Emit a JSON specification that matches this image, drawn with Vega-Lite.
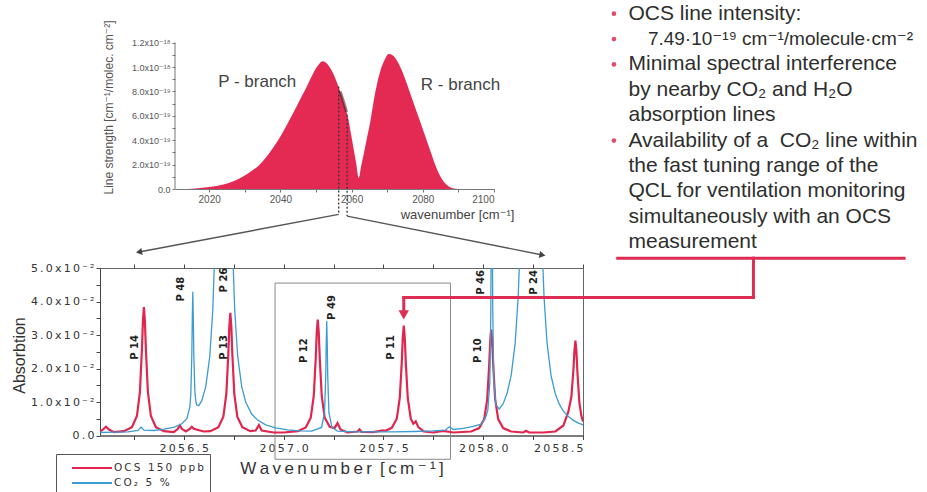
{
  "$schema": "https://vega.github.io/schema/vega-lite/v6.json",
  "background": "white",
  "padding": {"left": 10, "top": 0, "right": 0, "bottom": 0},
  "config": {
    "font": "Liberation Sans, Arial, DejaVu Sans",
    "view": {"stroke": "transparent"},
    "axis": {"grid": false, "labelFontWeight": "normal", "titleFontWeight": "normal", "labelOverlap": false}
  },
  "datasets": {
    "band": [
      {"nu": 2012, "s": 0}, {"nu": 2016, "s": 0.005}, {"nu": 2020, "s": 0.016}, {"nu": 2024, "s": 0.037},
      {"nu": 2027, "s": 0.066}, {"nu": 2030, "s": 0.11}, {"nu": 2032, "s": 0.15}, {"nu": 2034, "s": 0.195},
      {"nu": 2036, "s": 0.26}, {"nu": 2038, "s": 0.34}, {"nu": 2040, "s": 0.43}, {"nu": 2042, "s": 0.535},
      {"nu": 2044, "s": 0.645}, {"nu": 2046, "s": 0.76}, {"nu": 2047.5, "s": 0.845}, {"nu": 2048.8, "s": 0.925},
      {"nu": 2050, "s": 0.99}, {"nu": 2051, "s": 1.03}, {"nu": 2051.8, "s": 1.047}, {"nu": 2052.8, "s": 1.035},
      {"nu": 2053.8, "s": 1.0}, {"nu": 2054.8, "s": 0.95}, {"nu": 2055.8, "s": 0.88}, {"nu": 2056.8, "s": 0.8},
      {"nu": 2057.8, "s": 0.71}, {"nu": 2058.6, "s": 0.63}, {"nu": 2059.2, "s": 0.558}, {"nu": 2059.9, "s": 0.44},
      {"nu": 2060.6, "s": 0.325}, {"nu": 2061.3, "s": 0.21}, {"nu": 2062.0, "s": 0.09}, {"nu": 2062.7, "s": 0.19},
      {"nu": 2063.5, "s": 0.3}, {"nu": 2064.4, "s": 0.43}, {"nu": 2065.3, "s": 0.56}, {"nu": 2066.2, "s": 0.72},
      {"nu": 2067.2, "s": 0.87}, {"nu": 2068.2, "s": 0.98}, {"nu": 2069.3, "s": 1.06}, {"nu": 2070.4, "s": 1.107},
      {"nu": 2071.6, "s": 1.095}, {"nu": 2072.8, "s": 1.05}, {"nu": 2074.0, "s": 0.98}, {"nu": 2075.2, "s": 0.89},
      {"nu": 2076.4, "s": 0.79}, {"nu": 2077.6, "s": 0.69}, {"nu": 2078.8, "s": 0.59}, {"nu": 2080.0, "s": 0.49},
      {"nu": 2081.2, "s": 0.39}, {"nu": 2082.4, "s": 0.29}, {"nu": 2083.6, "s": 0.19}, {"nu": 2084.8, "s": 0.11},
      {"nu": 2086.0, "s": 0.055}, {"nu": 2087.2, "s": 0.022}, {"nu": 2088.4, "s": 0.006}, {"nu": 2090, "s": 0}
    ],
    "ocs": [
      {"nu": 2056.08, "a": 0.0012}, {"nu": 2056.095, "a": 0.0018}, {"nu": 2056.11, "a": 0.0026}, {"nu": 2056.125, "a": 0.0018},
      {"nu": 2056.15, "a": 0.001}, {"nu": 2056.2, "a": 0.0013}, {"nu": 2056.24, "a": 0.0025}, {"nu": 2056.265, "a": 0.0058},
      {"nu": 2056.28, "a": 0.013}, {"nu": 2056.29, "a": 0.0256}, {"nu": 2056.295, "a": 0.034}, {"nu": 2056.3, "a": 0.0383},
      {"nu": 2056.305, "a": 0.034}, {"nu": 2056.31, "a": 0.0256}, {"nu": 2056.32, "a": 0.013}, {"nu": 2056.335, "a": 0.0058},
      {"nu": 2056.36, "a": 0.0025}, {"nu": 2056.4, "a": 0.0013}, {"nu": 2056.45, "a": 0.001}, {"nu": 2056.47, "a": 0.002},
      {"nu": 2056.48, "a": 0.003}, {"nu": 2056.49, "a": 0.002}, {"nu": 2056.51, "a": 0.0012}, {"nu": 2056.53, "a": 0.002},
      {"nu": 2056.54, "a": 0.0026}, {"nu": 2056.55, "a": 0.002}, {"nu": 2056.6, "a": 0.0012}, {"nu": 2056.633, "a": 0.0013},
      {"nu": 2056.673, "a": 0.0025}, {"nu": 2056.698, "a": 0.0056}, {"nu": 2056.713, "a": 0.0124}, {"nu": 2056.723, "a": 0.0244},
      {"nu": 2056.728, "a": 0.0325}, {"nu": 2056.733, "a": 0.0366}, {"nu": 2056.738, "a": 0.0325}, {"nu": 2056.743, "a": 0.0244},
      {"nu": 2056.753, "a": 0.0124}, {"nu": 2056.768, "a": 0.0056}, {"nu": 2056.793, "a": 0.0025}, {"nu": 2056.833, "a": 0.0013},
      {"nu": 2056.86, "a": 0.0015}, {"nu": 2056.876, "a": 0.0031}, {"nu": 2056.89, "a": 0.0015}, {"nu": 2056.95, "a": 0.0009},
      {"nu": 2057.0, "a": 0.0009}, {"nu": 2057.071, "a": 0.0013}, {"nu": 2057.111, "a": 0.0024}, {"nu": 2057.136, "a": 0.0053},
      {"nu": 2057.151, "a": 0.0118}, {"nu": 2057.161, "a": 0.0231}, {"nu": 2057.166, "a": 0.0308}, {"nu": 2057.171, "a": 0.0346},
      {"nu": 2057.176, "a": 0.0308}, {"nu": 2057.181, "a": 0.0231}, {"nu": 2057.191, "a": 0.0118}, {"nu": 2057.206, "a": 0.0053},
      {"nu": 2057.231, "a": 0.0026}, {"nu": 2057.255, "a": 0.0022}, {"nu": 2057.27, "a": 0.0037}, {"nu": 2057.285, "a": 0.0018},
      {"nu": 2057.32, "a": 0.0009}, {"nu": 2057.37, "a": 0.0012}, {"nu": 2057.38, "a": 0.0018}, {"nu": 2057.39, "a": 0.0011},
      {"nu": 2057.45, "a": 0.001}, {"nu": 2057.497, "a": 0.0015}, {"nu": 2057.51, "a": 0.0014}, {"nu": 2057.542, "a": 0.0023},
      {"nu": 2057.567, "a": 0.005}, {"nu": 2057.582, "a": 0.0112}, {"nu": 2057.592, "a": 0.0219}, {"nu": 2057.597, "a": 0.0292},
      {"nu": 2057.602, "a": 0.0328}, {"nu": 2057.607, "a": 0.0292}, {"nu": 2057.612, "a": 0.0219}, {"nu": 2057.622, "a": 0.0112},
      {"nu": 2057.637, "a": 0.005}, {"nu": 2057.65, "a": 0.0035}, {"nu": 2057.662, "a": 0.0042}, {"nu": 2057.675, "a": 0.0025},
      {"nu": 2057.702, "a": 0.0012}, {"nu": 2057.75, "a": 0.0009}, {"nu": 2057.8, "a": 0.0014}, {"nu": 2057.85, "a": 0.0009},
      {"nu": 2057.94, "a": 0.0012}, {"nu": 2057.98, "a": 0.0022}, {"nu": 2058.005, "a": 0.0049}, {"nu": 2058.02, "a": 0.0108},
      {"nu": 2058.03, "a": 0.0211}, {"nu": 2058.035, "a": 0.0281}, {"nu": 2058.04, "a": 0.0316}, {"nu": 2058.045, "a": 0.0281},
      {"nu": 2058.05, "a": 0.0211}, {"nu": 2058.06, "a": 0.0108}, {"nu": 2058.075, "a": 0.0049}, {"nu": 2058.1, "a": 0.0022},
      {"nu": 2058.14, "a": 0.0012}, {"nu": 2058.2, "a": 0.0009}, {"nu": 2058.215, "a": 0.0014}, {"nu": 2058.23, "a": 0.0009},
      {"nu": 2058.3, "a": 0.0009}, {"nu": 2058.362, "a": 0.0012}, {"nu": 2058.402, "a": 0.003}, {"nu": 2058.427, "a": 0.0072},
      {"nu": 2058.442, "a": 0.0117}, {"nu": 2058.452, "a": 0.0197}, {"nu": 2058.457, "a": 0.0252}, {"nu": 2058.462, "a": 0.0283},
      {"nu": 2058.467, "a": 0.0252}, {"nu": 2058.472, "a": 0.0189}, {"nu": 2058.482, "a": 0.0097}, {"nu": 2058.492, "a": 0.0058},
      {"nu": 2058.5, "a": 0.0042}
    ],
    "co2": [
      {"nu": 2056.08, "a": 0.0009}, {"nu": 2056.15, "a": 0.001}, {"nu": 2056.22, "a": 0.0011}, {"nu": 2056.27, "a": 0.0015},
      {"nu": 2056.286, "a": 0.0025}, {"nu": 2056.3, "a": 0.0016}, {"nu": 2056.35, "a": 0.0015}, {"nu": 2056.4, "a": 0.0019},
      {"nu": 2056.45, "a": 0.0024}, {"nu": 2056.49, "a": 0.0035}, {"nu": 2056.515, "a": 0.005}, {"nu": 2056.53, "a": 0.0084},
      {"nu": 2056.535, "a": 0.0123}, {"nu": 2056.54, "a": 0.0239}, {"nu": 2056.5425, "a": 0.0353}, {"nu": 2056.545, "a": 0.0429},
      {"nu": 2056.5475, "a": 0.0355}, {"nu": 2056.55, "a": 0.0245}, {"nu": 2056.555, "a": 0.0135}, {"nu": 2056.56, "a": 0.0102},
      {"nu": 2056.565, "a": 0.0091}, {"nu": 2056.575, "a": 0.0089}, {"nu": 2056.59, "a": 0.0104}, {"nu": 2056.61, "a": 0.0146},
      {"nu": 2056.63, "a": 0.0236}, {"nu": 2056.645, "a": 0.0374}, {"nu": 2056.655, "a": 0.0547}, {"nu": 2056.665, "a": 0.0874},
      {"nu": 2056.68, "a": 0.2306}, {"nu": 2056.7, "a": 1.15}, {"nu": 2056.72, "a": 0.2306}, {"nu": 2056.735, "a": 0.0874},
      {"nu": 2056.745, "a": 0.0547}, {"nu": 2056.755, "a": 0.0374}, {"nu": 2056.77, "a": 0.0236}, {"nu": 2056.79, "a": 0.0146},
      {"nu": 2056.81, "a": 0.01}, {"nu": 2056.84, "a": 0.0064}, {"nu": 2056.87, "a": 0.0046}, {"nu": 2056.91, "a": 0.0032},
      {"nu": 2056.96, "a": 0.0023}, {"nu": 2057.02, "a": 0.0017}, {"nu": 2057.08, "a": 0.0014}, {"nu": 2057.14, "a": 0.0013},
      {"nu": 2057.19, "a": 0.0024}, {"nu": 2057.205, "a": 0.0068}, {"nu": 2057.211, "a": 0.0177}, {"nu": 2057.2135, "a": 0.0276},
      {"nu": 2057.216, "a": 0.0342}, {"nu": 2057.2185, "a": 0.0276}, {"nu": 2057.221, "a": 0.0177}, {"nu": 2057.227, "a": 0.0068},
      {"nu": 2057.242, "a": 0.0024}, {"nu": 2057.27, "a": 0.0013}, {"nu": 2057.35, "a": 0.0011}, {"nu": 2057.45, "a": 0.0011},
      {"nu": 2057.55, "a": 0.0011}, {"nu": 2057.65, "a": 0.0012}, {"nu": 2057.75, "a": 0.0014}, {"nu": 2057.81, "a": 0.0016},
      {"nu": 2057.83, "a": 0.0026}, {"nu": 2057.85, "a": 0.0018}, {"nu": 2057.9, "a": 0.0021}, {"nu": 2057.95, "a": 0.0027},
      {"nu": 2057.99, "a": 0.0034}, {"nu": 2058.01, "a": 0.0051}, {"nu": 2058.023, "a": 0.0074}, {"nu": 2058.033, "a": 0.0157},
      {"nu": 2058.038, "a": 0.036}, {"nu": 2058.0405, "a": 0.0623}, {"nu": 2058.043, "a": 0.0849}, {"nu": 2058.0455, "a": 0.0624},
      {"nu": 2058.048, "a": 0.0365}, {"nu": 2058.053, "a": 0.0166}, {"nu": 2058.063, "a": 0.0093}, {"nu": 2058.08, "a": 0.0079},
      {"nu": 2058.1, "a": 0.0095}, {"nu": 2058.12, "a": 0.0127}, {"nu": 2058.14, "a": 0.0179}, {"nu": 2058.16, "a": 0.0275},
      {"nu": 2058.175, "a": 0.0411}, {"nu": 2058.185, "a": 0.0566}, {"nu": 2058.195, "a": 0.083}, {"nu": 2058.215, "a": 0.24},
      {"nu": 2058.24, "a": 1.75}, {"nu": 2058.265, "a": 0.24}, {"nu": 2058.285, "a": 0.083}, {"nu": 2058.295, "a": 0.0566},
      {"nu": 2058.305, "a": 0.0411}, {"nu": 2058.32, "a": 0.0275}, {"nu": 2058.34, "a": 0.0179}, {"nu": 2058.36, "a": 0.0127},
      {"nu": 2058.38, "a": 0.0095}, {"nu": 2058.4, "a": 0.0074}, {"nu": 2058.42, "a": 0.006}, {"nu": 2058.45, "a": 0.0046},
      {"nu": 2058.48, "a": 0.0036}, {"nu": 2058.5, "a": 0.0032}
    ],
    "notes": [
      {"line": 0, "bullet": true, "sub": false, "text": "OCS line intensity:"},
      {"line": 1, "bullet": true, "sub": true, "text": "7.49·10⁻¹⁹ cm⁻¹/molecule·cm⁻²"},
      {"line": 2, "bullet": true, "sub": false, "text": "Minimal spectral interference"},
      {"line": 3, "bullet": false, "sub": false, "text": "by nearby CO₂ and H₂O"},
      {"line": 4, "bullet": false, "sub": false, "text": "absorption lines"},
      {"line": 5, "bullet": true, "sub": false, "text": "Availability of a \u00a0CO₂ line within"},
      {"line": 6, "bullet": false, "sub": false, "text": "the fast tuning range of the"},
      {"line": 7, "bullet": false, "sub": false, "text": "QCL for ventilation monitoring"},
      {"line": 8, "bullet": false, "sub": false, "text": "simultaneously with an OCS"},
      {"line": 9, "bullet": false, "sub": false, "text": "measurement"}
    ]
  },
  "spacing": -4,
  "vconcat": [
    {
      "spacing": 0,
      "hconcat": [
        {"width": 1, "height": 1, "data": {"values": []}, "mark": {"type": "point", "opacity": 0}},
        {
          "width": 319,
          "height": 188,
          "resolve": {"axis": {"x": "independent", "y": "independent"}},
          "layer": [
            {
              "data": {"name": "band"},
              "mark": {"type": "area", "color": "#e42a52", "interpolate": "monotone"},
              "encoding": {
                "x": {
                  "field": "nu", "type": "quantitative",
                  "scale": {"domain": [2010.4, 2100], "nice": false, "zero": false},
                  "axis": {
                    "values": [2020, 2030, 2040, 2050, 2060, 2070, 2080, 2090, 2100],
                    "format": "d",
                    "labelExpr": "datum.value % 20 == 0 ? datum.label : ''",
                    "domainColor": "#777", "tickColor": "#777", "tickSize": 3,
                    "labelFontSize": 10, "labelColor": "#555", "labelPadding": 2,
                    "title": "wavenumber [cm⁻¹]", "titleFontSize": 13, "titleColor": "#444",
                    "titleX": 339, "titleY": 25, "titleAlign": "right", "titleBaseline": "middle"
                  }
                },
                "y": {
                  "field": "s", "type": "quantitative",
                  "scale": {"domain": [0, 1.542], "nice": false, "zero": false},
                  "axis": {
                    "values": [0, 0.1, 0.2, 0.3, 0.4, 0.5, 0.6, 0.7, 0.8, 0.9, 1.0, 1.1, 1.2],
                    "domain": false, "tickColor": "#777", "tickSize": 3,
                    "labelExpr": "datum.value == 0 ? '0.0' : round(datum.value*10) % 2 == 1 ? '' : datum.value < 0.95 ? format(datum.value*10, '.1f') + 'x10⁻¹⁹' : format(datum.value, '.1f') + 'x10⁻¹⁸'",
                    "labelFontSize": 9, "labelColor": "#555", "labelPadding": 2,
                    "title": "Line strength [cm⁻¹/molec. cm⁻²]", "titleFontSize": 12, "titleColor": "#555",
                    "titleX": -67, "titleY": 106, "titleAngle": 270, "titleBaseline": "middle", "titleAlign": "center"
                  }
                }
              }
            },
            {
              "data": {"name": "band"},
              "transform": [{"filter": "datum.nu >= 2056 && datum.nu <= 2059"}],
              "mark": {"type": "line", "color": "#3a1622", "opacity": 0.55, "strokeWidth": 3},
              "encoding": {
                "x": {"field": "nu", "type": "quantitative", "scale": {"domain": [2010.4, 2100], "nice": false, "zero": false}, "axis": null},
                "y": {"field": "s", "type": "quantitative", "scale": {"domain": [0, 1.542], "nice": false, "zero": false}, "axis": null}
              }
            },
            {
              "data": {"values": [{"nu": 2056.38, "s": 0.84, "s2": -0.208}, {"nu": 2058.74, "s": 0.61, "s2": -0.222}]},
              "mark": {"type": "rule", "color": "#333", "strokeDash": [2, 2], "strokeWidth": 1.3},
              "encoding": {
                "x": {"field": "nu", "type": "quantitative", "scale": {"domain": [2010.4, 2100], "nice": false, "zero": false}, "axis": null},
                "y": {"field": "s", "type": "quantitative", "scale": {"domain": [0, 1.542], "nice": false, "zero": false}, "axis": null},
                "y2": {"field": "s2"}
              }
            },
            {
              "data": {"values": [
                {"nu": 2056.38, "s": -0.208, "nu2": 2000.29, "s2": -0.5167},
                {"nu": 2058.74, "s": -0.222, "nu2": 2113.6, "s2": -0.5413}
              ]},
              "mark": {"type": "rule", "color": "#555", "strokeWidth": 1.4},
              "encoding": {
                "x": {"field": "nu", "type": "quantitative", "scale": {"domain": [2010.4, 2100], "nice": false, "zero": false}, "axis": null},
                "y": {"field": "s", "type": "quantitative", "scale": {"domain": [0, 1.542], "nice": false, "zero": false}, "axis": null},
                "x2": {"field": "nu2"},
                "y2": {"field": "s2"}
              }
            },
            {
              "data": {"values": [{"nu": 2000.29, "s": -0.5167}]},
              "mark": {"type": "point", "shape": "triangle-up", "filled": true, "color": "#444", "opacity": 1, "size": 50, "angle": 259},
              "encoding": {
                "x": {"field": "nu", "type": "quantitative", "scale": {"domain": [2010.4, 2100], "nice": false, "zero": false}, "axis": null},
                "y": {"field": "s", "type": "quantitative", "scale": {"domain": [0, 1.542], "nice": false, "zero": false}, "axis": null}
              }
            },
            {
              "data": {"values": [{"nu": 2113.6, "s": -0.5413}]},
              "mark": {"type": "point", "shape": "triangle-up", "filled": true, "color": "#444", "opacity": 1, "size": 50, "angle": 101},
              "encoding": {
                "x": {"field": "nu", "type": "quantitative", "scale": {"domain": [2010.4, 2100], "nice": false, "zero": false}, "axis": null},
                "y": {"field": "s", "type": "quantitative", "scale": {"domain": [0, 1.542], "nice": false, "zero": false}, "axis": null}
              }
            },
            {
              "data": {"values": [{}]},
              "mark": {"type": "rule", "color": "#777"},
              "encoding": {
                "x": {"datum": 2010.4, "type": "quantitative", "scale": {"domain": [2010.4, 2100], "nice": false, "zero": false}, "axis": null},
                "y": {"datum": 0, "type": "quantitative", "scale": {"domain": [0, 1.542], "nice": false, "zero": false}, "axis": null},
                "y2": {"datum": 1.2}
              }
            },
            {
              "data": {"values": [{"t": "P - branch", "nu": 2033.5, "s": 0.874}, {"t": "R - branch", "nu": 2090.6, "s": 0.855}]},
              "mark": {"type": "text", "fontSize": 17, "color": "#444", "align": "center", "baseline": "middle"},
              "encoding": {
                "x": {"field": "nu", "type": "quantitative", "scale": {"domain": [2010.4, 2100], "nice": false, "zero": false}, "axis": null},
                "y": {"field": "s", "type": "quantitative", "scale": {"domain": [0, 1.542], "nice": false, "zero": false}, "axis": null},
                "text": {"field": "t"}
              }
            }
          ]
        },
        {
          "width": 381,
          "height": 253.7,
          "data": {"name": "notes"},
          "layer": [
            {
              "transform": [{"filter": "datum.bullet"}],
              "mark": {"type": "circle", "color": "#df4c6c", "size": 22, "opacity": 1},
              "encoding": {
                "x": {"datum": -0.75, "type": "quantitative", "scale": {"domain": [-4.2, 15.44], "nice": false, "zero": false}, "axis": null},
                "y": {"field": "line", "type": "ordinal", "scale": {"type": "point", "padding": 0.5, "domain": [0, 1, 2, 3, 4, 5, 6, 7, 8, 9]}, "axis": null}
              }
            },
            {
              "transform": [{"filter": "!datum.sub"}],
              "mark": {"type": "text", "align": "left", "baseline": "middle", "fontSize": 21, "color": "#2e2e2e"},
              "encoding": {
                "x": {"datum": 0, "type": "quantitative", "scale": {"domain": [-4.2, 15.44], "nice": false, "zero": false}, "axis": null},
                "y": {"field": "line", "type": "ordinal", "scale": {"type": "point", "padding": 0.5, "domain": [0, 1, 2, 3, 4, 5, 6, 7, 8, 9]}, "axis": null},
                "text": {"field": "text"}
              }
            },
            {
              "transform": [{"filter": "datum.sub"}],
              "mark": {"type": "text", "align": "left", "baseline": "middle", "fontSize": 19, "color": "#2e2e2e"},
              "encoding": {
                "x": {"datum": 1, "type": "quantitative", "scale": {"domain": [-4.2, 15.44], "nice": false, "zero": false}, "axis": null},
                "y": {"field": "line", "type": "ordinal", "scale": {"type": "point", "padding": 0.5, "domain": [0, 1, 2, 3, 4, 5, 6, 7, 8, 9]}, "axis": null},
                "text": {"field": "text"}
              }
            }
          ]
        }
      ]
    },
    {
      "width": 483,
      "height": 167.5,
      "view": {"stroke": "#666", "strokeWidth": 1},
      "resolve": {"axis": {"x": "independent", "y": "independent"}},
      "layer": [
        {
          "data": {"values": [{"nu": 2056.957, "nu2": 2057.836, "a": 0.0455, "a2": -0.0071}]},
          "mark": {"type": "rect", "fillOpacity": 0, "stroke": "#8a8a8a", "strokeWidth": 1},
          "encoding": {
            "x": {
              "field": "nu", "type": "quantitative",
              "scale": {"domain": [2056.08, 2058.5], "nice": false, "zero": false},
              "axis": {"orient": "top", "labels": false, "title": null, "domain": false,
                       "values": [2056.25, 2056.5, 2056.75, 2057, 2057.25, 2057.5, 2057.75, 2058, 2058.25, 2058.5],
                       "tickColor": "#444", "tickSize": 4}
            },
            "x2": {"field": "nu2"},
            "y": {"field": "a", "type": "quantitative", "scale": {"domain": [0, 0.05], "nice": false, "zero": false}, "axis": null},
            "y2": {"field": "a2"}
          }
        },
        {
          "data": {"name": "ocs"},
          "mark": {"type": "line", "strokeWidth": 2.2, "clip": true},
          "encoding": {
            "x": {
              "field": "nu", "type": "quantitative",
              "scale": {"domain": [2056.08, 2058.5], "nice": false, "zero": false},
              "axis": {
                "orient": "bottom",
                "values": [2056.25, 2056.5, 2056.75, 2057, 2057.25, 2057.5, 2057.75, 2058, 2058.25, 2058.5],
                "labelExpr": "round(datum.value*4) % 2 == 0 ? join(split(format(datum.value, '.1f'), ''), '\u2009') : ''",
                "labelFont": "DejaVu Sans", "labelFontSize": 11, "labelColor": "#333", "labelPadding": 3,
                "domainColor": "#444", "tickColor": "#444", "tickSize": 4,
                "title": "W\u2009a\u2009v\u2009e\u2009n\u2009u\u2009m\u2009b\u2009e\u2009r \u2009[\u2009c\u2009m\u2009⁻\u2009¹\u2009]",
                "titleFontSize": 17, "titleColor": "#333", "titleY": 33, "titleBaseline": "middle"
              }
            },
            "y": {
              "field": "a", "type": "quantitative",
              "scale": {"domain": [0, 0.05], "nice": false, "zero": false},
              "axis": {
                "values": [0, 0.005, 0.01, 0.015, 0.02, 0.025, 0.03, 0.035, 0.04, 0.045, 0.05],
                "labelExpr": "round(datum.value*200) % 2 == 1 ? '' : join(split(format(datum.value*100, '.1f') + (datum.value == 0 ? '' : 'x10⁻²'), ''), '\u2009')",
                "labelFont": "DejaVu Sans", "labelFontSize": 11, "labelColor": "#333", "labelPadding": 2,
                "domainColor": "#444", "tickColor": "#444", "tickSize": 4,
                "title": "Absorbtion", "titleFontSize": 16, "titleColor": "#333",
                "titleX": -81, "titleY": 87, "titleAngle": 270, "titleBaseline": "middle", "titleAlign": "center"
              }
            },
            "color": {
              "datum": "OCS 150 ppb", "type": "nominal",
              "scale": {"domain": ["OCS 150 ppb", "CO₂ 5 %"], "range": ["#e0264e", "#3d9bd3"]},
              "legend": {
                "orient": "none", "legendX": -44, "legendY": 453, "direction": "vertical", "title": null,
                "strokeColor": "#555", "fillColor": "white", "padding": 6,
                "symbolType": "M-2.86,0H2.86", "symbolSize": 196, "symbolStrokeWidth": 2, "symbolOffset": 22,
                "labelFont": "DejaVu Sans", "labelFontSize": 10.5, "labelColor": "#333", "labelOffset": 14,
                "labelExpr": "join(split(datum.label, ''), '\u2009')", "rowPadding": 1
              }
            }
          }
        },
        {
          "data": {"name": "co2"},
          "mark": {"type": "line", "strokeWidth": 1.3, "clip": true},
          "encoding": {
            "x": {"field": "nu", "type": "quantitative", "scale": {"domain": [2056.08, 2058.5], "nice": false, "zero": false}, "axis": null},
            "y": {"field": "a", "type": "quantitative", "scale": {"domain": [0, 0.05], "nice": false, "zero": false}, "axis": null},
            "color": {
              "datum": "CO₂ 5 %", "type": "nominal",
              "scale": {"domain": ["OCS 150 ppb", "CO₂ 5 %"], "range": ["#e0264e", "#3d9bd3"]},
              "legend": {
                "orient": "none", "legendX": -44, "legendY": 453, "direction": "vertical", "title": null,
                "strokeColor": "#555", "fillColor": "white", "padding": 6,
                "symbolType": "M-2.86,0H2.86", "symbolSize": 196, "symbolStrokeWidth": 2, "symbolOffset": 22,
                "labelFont": "DejaVu Sans", "labelFontSize": 10.5, "labelColor": "#333", "labelOffset": 14,
                "labelExpr": "join(split(datum.label, ''), '\u2009')", "rowPadding": 1
              }
            }
          }
        },
        {
          "data": {"values": [
            {"label": "P 14", "nu": 2056.253, "a": 0.0263},
            {"label": "P 48", "nu": 2056.486, "a": 0.0437},
            {"label": "P 26", "nu": 2056.7, "a": 0.0464},
            {"label": "P 13", "nu": 2056.7, "a": 0.0263},
            {"label": "P 12", "nu": 2057.104, "a": 0.0253},
            {"label": "P 49", "nu": 2057.243, "a": 0.0382},
            {"label": "P 11", "nu": 2057.539, "a": 0.0263},
            {"label": "P 46", "nu": 2057.99, "a": 0.0457},
            {"label": "P 24", "nu": 2058.252, "a": 0.0457},
            {"label": "P 10", "nu": 2057.973, "a": 0.0253}
          ]},
          "mark": {"type": "text", "angle": 270, "align": "center", "baseline": "middle", "font": "DejaVu Sans", "fontSize": 10, "fontWeight": "bold", "color": "#222"},
          "encoding": {
            "x": {"field": "nu", "type": "quantitative", "scale": {"domain": [2056.08, 2058.5], "nice": false, "zero": false}, "axis": null},
            "y": {"field": "a", "type": "quantitative", "scale": {"domain": [0, 0.05], "nice": false, "zero": false}, "axis": null},
            "text": {"field": "label"}
          }
        },
        {
          "data": {"values": [
            {"nu": 2058.674, "a": 0.05293, "nu2": 2060.109, "a2": 0.05293},
            {"nu": 2059.354, "a": 0.05293, "nu2": 2059.354, "a2": 0.0412},
            {"nu": 2059.354, "a": 0.0412, "nu2": 2057.602, "a2": 0.0412},
            {"nu": 2057.602, "a": 0.0412, "nu2": 2057.602, "a2": 0.0375}
          ]},
          "mark": {"type": "rule", "color": "#dd2d52", "strokeWidth": 3, "strokeCap": "square"},
          "encoding": {
            "x": {"field": "nu", "type": "quantitative", "scale": {"domain": [2056.08, 2058.5], "nice": false, "zero": false}, "axis": null},
            "y": {"field": "a", "type": "quantitative", "scale": {"domain": [0, 0.05], "nice": false, "zero": false}, "axis": null},
            "x2": {"field": "nu2"},
            "y2": {"field": "a2"}
          }
        },
        {
          "data": {"values": [{"nu": 2057.602, "a": 0.036}]},
          "mark": {"type": "point", "shape": "triangle-down", "filled": true, "color": "#dd2d52", "opacity": 1, "size": 110},
          "encoding": {
            "x": {"field": "nu", "type": "quantitative", "scale": {"domain": [2056.08, 2058.5], "nice": false, "zero": false}, "axis": null},
            "y": {"field": "a", "type": "quantitative", "scale": {"domain": [0, 0.05], "nice": false, "zero": false}, "axis": null}
          }
        }
      ]
    }
  ]
}
